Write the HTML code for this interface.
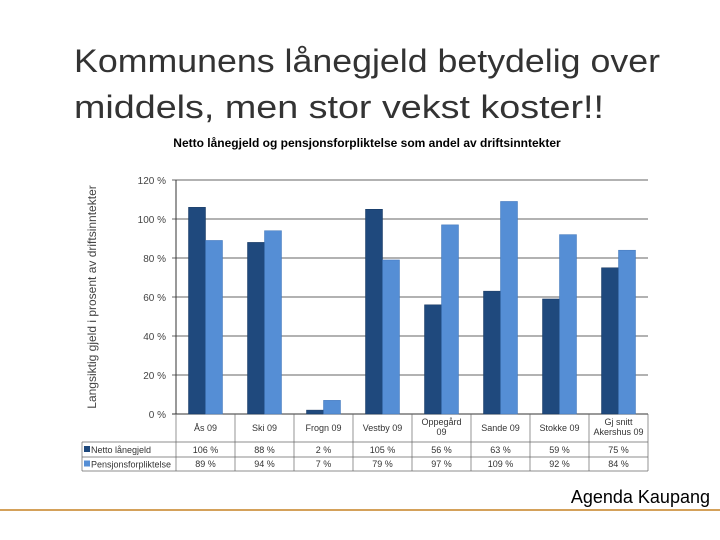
<!DOCTYPE html>
<html><head><meta charset="utf-8"><style>
body{margin:0;background:#fff;}
svg{display:block;font-family:"Liberation Sans",sans-serif;}
</style></head><body>
<svg width="720" height="540">
<text x="74" y="72" font-size="32" fill="#333" textLength="586" lengthAdjust="spacingAndGlyphs">Kommunens lånegjeld betydelig over</text>
<text x="74" y="118" font-size="32" fill="#333" textLength="530" lengthAdjust="spacingAndGlyphs">middels, men stor vekst koster!!</text>
<text x="367" y="147" font-size="12" font-weight="bold" text-anchor="middle" fill="#000">Netto lånegjeld og pensjonsforpliktelse som andel av driftsinntekter</text>
<text transform="translate(96,297) rotate(-90)" font-size="12" text-anchor="middle" fill="#444">Langsiktig gjeld i prosent av driftsinntekter</text>
<g id="chart"></g>
<line x1="0" y1="510" x2="720" y2="510" stroke="#d4a15a" stroke-width="2"/>
<text x="710" y="503" font-size="18" text-anchor="end" fill="#000">Agenda Kaupang</text>
</svg>
<script>
const categories=["Ås 09","Ski 09","Frogn 09","Vestby 09","Oppegård|09","Sande 09","Stokke 09","Gj snitt|Akershus 09"];
const netto=[106,88,2,105,56,63,59,75];
const pensjon=[89,94,7,79,97,109,92,84];
const ticks=[0,20,40,60,80,100,120];
const seriesNames=["Netto lånegjeld","Pensjonsforpliktelse"];
const NS="http://www.w3.org/2000/svg";
const g=document.getElementById("chart");
const x0=176,x1=648,y0=414,yTop=180,ymax=120;
const cw=(x1-x0)/categories.length;
const y=v=>y0-(v/ymax)*(y0-yTop);
function mk(t,a,p){const e=document.createElementNS(NS,t);for(const k in a)e.setAttribute(k,a[k]);(p||g).appendChild(e);return e;}
ticks.forEach(t=>{
 const l=mk("line",{x1:x0-4,x2:x1,y1:y(t),y2:y(t),stroke:t?"#333":"#333","stroke-width":t?0.8:1});
 
 
 const tx=mk("text",{x:x0-10,y:y(t)+4,"font-size":10,"text-anchor":"end",fill:"#444"});
 tx.textContent=t+" %";
 
 
});
mk("line",{x1:x0,x2:x0,y1:yTop,y2:y0,stroke:"#333"});
const bw=17;
categories.forEach((c,i)=>{
 const cx=x0+cw*(i+0.5);
 const r1=mk("rect",{x:cx-bw,y:y(netto[i]),width:bw,height:y0-y(netto[i]),fill:"#1f497d",stroke:"#15365e","stroke-width":0.5});
 
 
 const r2=mk("rect",{x:cx,y:y(pensjon[i]),width:bw,height:y0-y(pensjon[i]),fill:"#558ed5",stroke:"#3f74b8","stroke-width":0.5});
 
 
 const parts=c.split("|");
 parts.forEach((p,j)=>{
  const t=mk("text",{x:cx,y:(parts.length>1?425:431)+j*10,"font-size":9,"text-anchor":"middle",fill:"#333"});
  t.textContent=p;
  
  
 });
 const t1=mk("text",{x:cx,y:453,"font-size":9,"text-anchor":"middle",fill:"#333"});
 t1.textContent=netto[i]+" %";
 
 
 const t2=mk("text",{x:cx,y:467,"font-size":9,"text-anchor":"middle",fill:"#333"});
 t2.textContent=pensjon[i]+" %";
 
 
 mk("line",{x1:x0+cw*(i+1),x2:x0+cw*(i+1),y1:y0,y2:471,stroke:"#666","stroke-width":0.7});
});
mk("line",{x1:x0,x2:x0,y1:y0,y2:471,stroke:"#666","stroke-width":0.7});
[442,457,471].forEach(yy=>mk("line",{x1:82,x2:x1,y1:yy,y2:yy,stroke:"#666","stroke-width":0.7}));
mk("line",{x1:82,x2:82,y1:442,y2:471,stroke:"#666","stroke-width":0.7});
const cols=["#1f497d","#558ed5"];
seriesNames.forEach((n,k)=>{
 const yy=442+k*14.5;
 const sq=mk("rect",{x:84,y:yy+4,width:6,height:6,fill:cols[k]});
 
 
 const t=mk("text",{x:91,y:yy+11,"font-size":9,fill:"#333"});
 t.textContent=n;
 
 
});
</script>
</body></html>
